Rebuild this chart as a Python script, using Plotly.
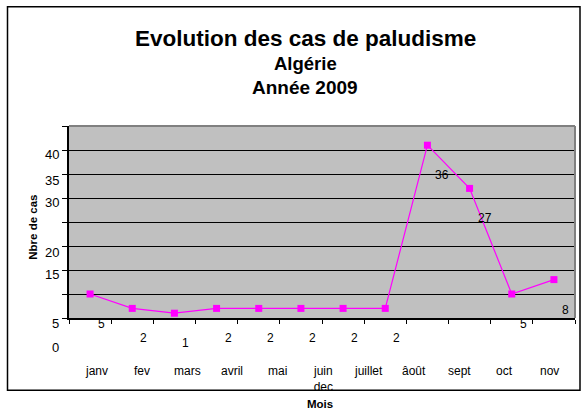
import numpy as np
import plotly.graph_objects as go

# ---- data ----
months = ["janv", "fev", "mars", "avril", "mai", "juin", "juillet",
          "août", "sept", "oct", "nov", "dec"]
cases = [5, 2, 1, 2, 2, 2, 2, 2, 36, 27, 5, 8]

# tick labels as they appear on the original (misaligned Excel labels)
x_tick_labels = ["janv", "fev", "mars", "avril", "mai", "juin<br>dec",
                 "juillet", "âoût", "sept", "oct", "nov"]
y_tick_labels = ["40", "35", "30", "20", "15", "5", "0"]

title_lines = ["Evolution des cas de paludisme", "Algérie", "Année 2009"]
y_title = "Nbre de cas"
x_title = "Mois"

# ---- figure ----
W, H = 581, 414
L, R, T, B = 69, 6, 126, 95.5
pw, ph = W - L - R, H - T - B

def px_x(p):  # pixel -> paper x
    return (p - L) / pw

def px_y(p):  # pixel -> paper y
    return (H - B - p) / ph

FONT = "Liberation Sans, Arial, sans-serif"
x_idx = np.arange(len(months))

fig = go.Figure()
fig.add_trace(go.Scatter(
    x=x_idx, y=cases, mode="lines+markers",
    line=dict(color="#FF00FF", width=1.2),
    marker=dict(symbol="square", size=7, color="#FF00FF",
                line=dict(color="#FF00FF", width=0)),
    hoverinfo="skip", showlegend=False))

annotations = []
# data labels (offset below-right as in the original)
for i, v in zip(x_idx, cases):
    annotations.append(dict(x=i, y=v, xref="x", yref="y", text=str(v),
                            showarrow=False, xanchor="left", yanchor="middle",
                            xshift=6, yshift=-30,
                            font=dict(family=FONT, size=12, color="black")))

# x category labels (spread wider than the category slots, as in the original)
lab_start, lab_step = 0.15, 1.075
for k, t in enumerate(x_tick_labels):
    annotations.append(dict(x=lab_start + k * lab_step, y=px_y(363), xref="x", yref="paper",
                            text=t, showarrow=False, xanchor="center", yanchor="top",
                            font=dict(family=FONT, size=12, color="black")))

# y labels (misplaced as in the original)
y_label_pix = [155, 180.7, 202.7, 252.7, 275, 324, 348]
for t, p in zip(y_tick_labels, y_label_pix):
    annotations.append(dict(x=px_x(61), y=px_y(p), xref="paper", yref="paper",
                            text=t, showarrow=False, xanchor="right", yanchor="middle",
                            font=dict(family=FONT, size=13, color="black")))

# titles
title_sizes = [22.5, 18.5, 19]
title_pix = [38, 63, 87]
for t, s, p in zip(title_lines, title_sizes, title_pix):
    annotations.append(dict(x=px_x(305), y=px_y(p), xref="paper", yref="paper",
                            text=f"<b>{t}</b>", showarrow=False,
                            xanchor="center", yanchor="middle",
                            font=dict(family=FONT, size=s, color="black")))

annotations.append(dict(x=px_x(33), y=px_y(228), xref="paper", yref="paper",
                        text=f"<b>{y_title}</b>", textangle=-90, showarrow=False,
                        xanchor="center", yanchor="middle",
                        font=dict(family=FONT, size=11.5, color="black")))
annotations.append(dict(x=px_x(320), y=px_y(405), xref="paper", yref="paper",
                        text=f"<b>{x_title}</b>", showarrow=False,
                        xanchor="center", yanchor="middle",
                        font=dict(family=FONT, size=11.5, color="black")))

shapes = [
    # outer frame
    dict(type="rect", xref="paper", yref="paper",
         x0=px_x(7.5), x1=px_x(580), y0=px_y(391), y1=px_y(6.5),
         line=dict(color="black", width=1.5), layer="below"),
    # plot area top / right border (gray)
    dict(type="line", xref="paper", yref="paper", x0=0, x1=1, y0=1, y1=1,
         line=dict(color="#808080", width=2)),
    dict(type="line", xref="paper", yref="paper", x0=1, x1=1, y0=0, y1=1,
         line=dict(color="#808080", width=2)),
]

fig.update_layout(
    width=W, height=H,
    margin=dict(l=L, r=R, t=T, b=B, pad=0),
    paper_bgcolor="white", plot_bgcolor="#C0C0C0",
    font=dict(family=FONT, size=12, color="black"),
    annotations=annotations, shapes=shapes, showlegend=False,
    xaxis=dict(range=[-0.5, len(months) - 0.5],
               tickvals=list(np.arange(len(months) + 1) - 0.5),
               showticklabels=False, ticks="outside", ticklen=4,
               tickcolor="black", tickwidth=1,
               showgrid=False, zeroline=False,
               showline=True, linecolor="black", linewidth=1.5),
    yaxis=dict(range=[0, 40], dtick=5, tick0=0,
               showticklabels=False, ticks="outside", ticklen=5,
               tickcolor="black", tickwidth=1,
               showgrid=True, gridcolor="black", gridwidth=1,
               zeroline=False, showline=True, linecolor="black", linewidth=1.5),
)

fig.write_html("out.html",
               config={"displayModeBar": False},
               post_script="document.body.style.margin='0px';"
                           "document.body.style.overflow='hidden';")
